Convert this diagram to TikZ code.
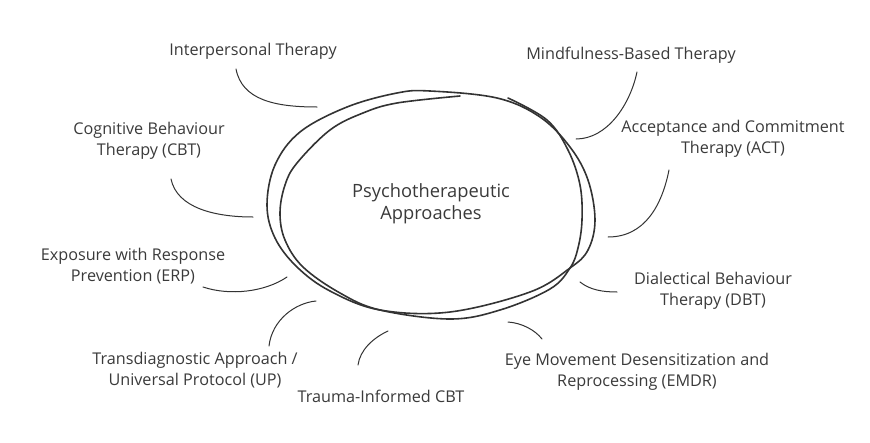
\documentclass[tikz,border=0pt]{standalone}
\usepackage{fontspec}
\setmainfont{Open Sans}
\definecolor{ink}{HTML}{333333}
\definecolor{txt}{HTML}{3A3A3A}
\begin{document}
\begin{tikzpicture}[x=1pt,y=-1pt,
  lbl/.style={text=txt,align=center,font=\fontsize{16.2}{21}\selectfont,inner sep=0pt},
  ctr/.style={text=txt,align=center,font=\fontsize{18.3}{22}\selectfont,inner sep=0pt},
  conn/.style={draw=ink,line width=1pt,line cap=round},
  loopline/.style={draw=ink,line width=1.6pt,line cap=round,line join=round}]
\useasboundingbox (0,0) rectangle (870,442);
% central loops
\draw[loopline] plot[smooth cycle,tension=0.6] coordinates {(430,91) (497,98) (540,117) (570,147) (588,180) (595,220) (588,250) (570,268) (530,292) (450,312) (380,310) (330,291) (297,267) (275,238) (267,205) (275,165) (300,132) (347,107) (397,93)};
\draw[loopline] plot[smooth,tension=0.6] coordinates {(508,98) (547,120) (568,150) (580,185) (582,220) (578,248) (570,268) (550,289) (500,310) (450,319) (380,310) (340,293) (303,267) (285,240) (280,213) (285,185) (297,163) (330,130) (363,113) (397,103) (460,96)};
\node[ctr] (center) at (431,204) {Psychotherapeutic\\Approaches};
% labels
\node[lbl] (ipt) at (253,51) {Interpersonal Therapy};
\node[lbl] (mbt) at (631,55) {Mindfulness-Based Therapy};
\node[lbl] (cbt) at (149,141) {Cognitive Behaviour\\Therapy (CBT)};
\node[lbl] (act) at (733,139) {Acceptance and Commitment\\Therapy (ACT)};
\node[lbl] (erp) at (133,266) {Exposure with Response\\Prevention (ERP)};
\node[lbl] (dbt) at (713,291) {Dialectical Behaviour\\Therapy (DBT)};
\node[lbl] (up) at (195,370) {Transdiagnostic Approach /\\Universal Protocol (UP)};
\node[lbl] (tcbt) at (381,396) {Trauma-Informed CBT};
\node[lbl] (emdr) at (637,372) {Eye Movement Desensitization and\\Reprocessing (EMDR)};
% connector ends
\coordinate (ipt1) at (236,69); \coordinate (ipt2) at (317,107);
\coordinate (cbt1) at (171,179); \coordinate (cbt2) at (253,217);
\coordinate (mbt1) at (637,72); \coordinate (mbt2) at (576,139);
\coordinate (act1) at (669,170); \coordinate (act2) at (608,237);
\coordinate (dbt1) at (580,282); \coordinate (dbt2) at (617,292);
\coordinate (emdr1) at (508,322); \coordinate (emdr2) at (542,339);
\coordinate (erp1) at (203,287); \coordinate (erp2) at (287,277);
\coordinate (up1) at (269,346); \coordinate (up2) at (316,301);
\coordinate (tcbt1) at (358,365); \coordinate (tcbt2) at (388,331);
\draw[conn] (ipt1) .. controls (242,100) and (275,107) .. (ipt2);
\draw[conn] (cbt1) .. controls (177,208) and (215,217) .. (cbt2);
\draw[conn] (mbt1) .. controls (630,105) and (607,139) .. (mbt2);
\draw[conn] (act1) .. controls (662,205) and (645,237) .. (act2);
\draw[conn] (dbt1) .. controls (590,290) and (603,292) .. (dbt2);
\draw[conn] (emdr1) .. controls (522,323) and (535,330) .. (emdr2);
\draw[conn] (erp1) .. controls (230,296) and (265,292) .. (erp2);
\draw[conn] (up1) .. controls (272,320) and (295,303) .. (up2);
\draw[conn] (tcbt1) .. controls (360,350) and (373,338) .. (tcbt2);
\end{tikzpicture}
\end{document}
